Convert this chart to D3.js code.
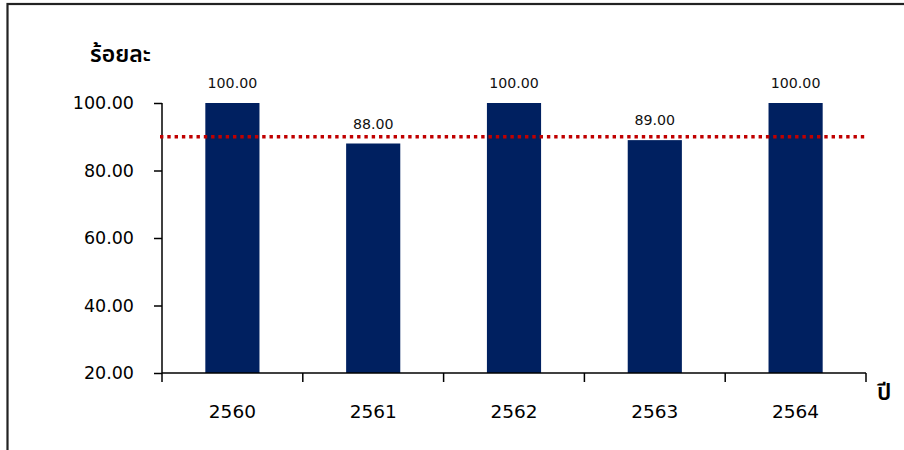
<!DOCTYPE html>
<html><head><meta charset="utf-8">
<script src="https://cdn.jsdelivr.net/npm/d3@7"></script>
<style>
html,body{margin:0;padding:0;background:#fff;}
svg{display:block;font-family:"DejaVu Sans","Noto Sans",sans-serif;}
</style></head>
<body>
<svg id="c" width="904" height="450"></svg>
<script>
const years = ["2560","2561","2562","2563","2564"];
const values = [100, 88, 100, 89, 100];
const valueLabels = ["100.00","88.00","100.00","89.00","100.00"];
const yTicks = [20, 40, 60, 80, 100];
const targetValue = 90;
const yTitle = "ร้อยละ";
const xTitle = "ปี";

const svg = d3.select("#c");
// frame
svg.append("rect").attr("x",7.5).attr("y",4).attr("width",910).attr("height",460)
  .attr("fill","none").attr("stroke","#222").attr("stroke-width",2.2);

const y = d3.scaleLinear().domain([20,100]).range([373,103]);
const x = d3.scaleBand().domain(years).range([162,866]).padding(0);
const barW = x.bandwidth()/2.6;

// bars
svg.selectAll("rect.bar").data(years).enter().append("rect")
  .attr("class","bar")
  .attr("x",(d)=>x(d)+(x.bandwidth()-barW)/2)
  .attr("width",barW)
  .attr("y",(d,i)=>y(values[i]))
  .attr("height",(d,i)=>y(20)-y(values[i]))
  .attr("fill","#002060");

// value labels
svg.selectAll("text.vl").data(years).enter().append("text")
  .attr("x",(d)=>x(d)+x.bandwidth()/2)
  .attr("y",(d,i)=>y(values[i])-15)
  .attr("text-anchor","middle").attr("font-size",14.2).attr("fill","#111")
  .text((d,i)=>valueLabels[i]);

// y axis
const yAxis = d3.axisLeft(y).tickValues(yTicks).tickFormat(d3.format(".2f")).tickSize(8).tickPadding(20);
const gy = svg.append("g").attr("transform","translate(162,0)").call(yAxis);
gy.select(".domain").attr("stroke","#000").attr("stroke-width",1.5).attr("d","M0,103V373");
gy.selectAll(".tick line").attr("stroke","#000").attr("stroke-width",1.5);
gy.selectAll(".tick text").attr("font-size",17.5).attr("fill","#000").attr("font-family","DejaVu Sans");

// x axis
const gx = svg.append("g").attr("transform","translate(0,373)");
gx.append("line").attr("x1",162).attr("x2",866).attr("y1",0).attr("y2",0).attr("stroke","#000").attr("stroke-width",1.5);
const bounds = years.map(d=>x(d)).concat([x(years[years.length-1])+x.bandwidth()]);
gx.selectAll("line.t").data(bounds).enter().append("line")
  .attr("x1",d=>d).attr("x2",d=>d).attr("y1",0).attr("y2",9)
  .attr("stroke","#000").attr("stroke-width",1.5);
gx.selectAll("text").data(years).enter().append("text")
  .attr("x",d=>x(d)+x.bandwidth()/2).attr("y",45)
  .attr("text-anchor","middle").attr("font-size",18.5).attr("fill","#000")
  .text(d=>d);

// target line
svg.append("line").attr("x1",160).attr("x2",868).attr("y1",y(targetValue)).attr("y2",y(targetValue))
  .attr("stroke","#c00000").attr("stroke-width",3.4).attr("stroke-dasharray","3.4,3.9");

// titles
svg.append("text").attr("x",90).attr("y",62).attr("font-size",23).attr("font-weight",600).attr("fill","#000")
  .attr("font-family","'Noto Sans Thai','Noto Sans','DejaVu Sans',sans-serif").text(yTitle);
svg.append("text").attr("x",877).attr("y",400).attr("font-size",23).attr("font-weight",600).attr("fill","#000")
  .attr("font-family","'Noto Sans Thai','Noto Sans','DejaVu Sans',sans-serif").text(xTitle);
</script>
</body></html>
